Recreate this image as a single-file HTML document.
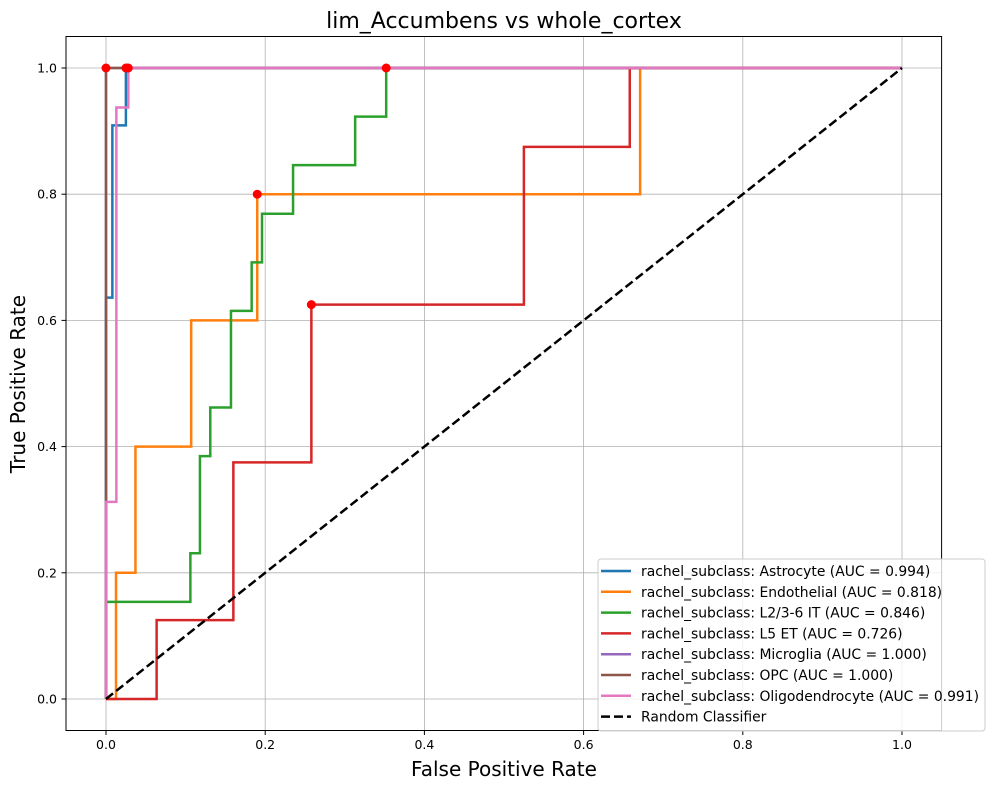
<!DOCTYPE html>
<html><head><meta charset="utf-8"><style>
body{margin:0;background:#fff;}
svg text{font-family:"DejaVu Sans","Liberation Sans",sans-serif;}
</style></head><body>
<svg id="chart" width="994" height="790" xmlns="http://www.w3.org/2000/svg">
<rect width="994" height="790" fill="#fff"/>
<g id="grid"></g>
<g id="ticks"></g>
<g id="series"></g>
<rect x="66" y="36.5" width="875.6" height="694" fill="none" stroke="#000" stroke-width="1"/>
<text x="504" y="28" font-size="22" text-anchor="middle">lim_Accumbens vs whole_cortex</text>
<text x="504" y="776" font-size="20" text-anchor="middle">False Positive Rate</text>
<text transform="translate(25,384) rotate(-90)" font-size="20" text-anchor="middle">True Positive Rate</text>
<g id="legend"></g>
</svg>
<script>
const names=["rachel_subclass: Astrocyte (AUC = 0.994)","rachel_subclass: Endothelial (AUC = 0.818)","rachel_subclass: L2/3-6 IT (AUC = 0.846)","rachel_subclass: L5 ET (AUC = 0.726)","rachel_subclass: Microglia (AUC = 1.000)","rachel_subclass: OPC (AUC = 1.000)","rachel_subclass: Oligodendrocyte (AUC = 0.991)"];
const colors=["#1f77b4","#ff7f0e","#2ca02c","#d62728","#9467bd","#8c564b","#e377c2"];
const fprAstro=[0,0,0.008,0.008,0.025,0.025,1];
const tprAstro=[0,0.636,0.636,0.909,0.909,1,1];
const fprEndo=[0,0.0126,0.0126,0.037,0.037,0.107,0.107,0.19,0.19,0.671,0.671,1];
const tprEndo=[0,0,0.2,0.2,0.4,0.4,0.6,0.6,0.8,0.8,1,1];
const fprL23=[0,0,0.106,0.106,0.118,0.118,0.131,0.131,0.157,0.157,0.183,0.183,0.196,0.196,0.235,0.235,0.313,0.313,0.352,0.352,1];
const tprL23=[0,0.154,0.154,0.231,0.231,0.385,0.385,0.462,0.462,0.615,0.615,0.692,0.692,0.769,0.769,0.846,0.846,0.923,0.923,1,1];
const fprL5=[0,0.0636,0.0636,0.16,0.16,0.258,0.258,0.525,0.525,0.658,0.658,1];
const tprL5=[0,0,0.125,0.125,0.375,0.375,0.625,0.625,0.875,0.875,1,1];
const fprMicro=[0,0,1];
const tprMicro=[0,1,1];
const fprOPC=[0,0,1];
const tprOPC=[0,1,1];
const fprOligo=[0,0,0.013,0.013,0.028,0.028,1];
const tprOligo=[0,0.3125,0.3125,0.9375,0.9375,1,1];
const dotX=[0,0.025,0.028,0.352,0.19,0.258];
const dotY=[1,1,1,1,0.8,0.625];
const ticks=[0,0.2,0.4,0.6,0.8,1.0];
const tickLabels=["0.0","0.2","0.4","0.6","0.8","1.0"];
const NS="http://www.w3.org/2000/svg";
function X(v){return 106+v*796;}
function Y(v){return 699-v*631;}
function mk(t,a,p){const e=document.createElementNS(NS,t);for(const k in a)e.setAttribute(k,a[k]);p.appendChild(e);return e;}
const grid=document.getElementById('grid'),tk=document.getElementById('ticks'),ser=document.getElementById('series'),leg=document.getElementById('legend');
ticks.forEach((t,i)=>{
 let g1=mk('line',{x1:X(t),x2:X(t),y1:36.5,y2:730.5,stroke:'#b0b0b0','stroke-width':0.8},grid);
 
 
 let g2=mk('line',{x1:66,x2:941.6,y1:Y(t),y2:Y(t),stroke:'#b0b0b0','stroke-width':0.8},grid);
 
 
 mk('line',{x1:X(t),x2:X(t),y1:730.5,y2:735,stroke:'#000'},tk);
 mk('line',{x1:61.5,x2:66,y1:Y(t),y2:Y(t),stroke:'#000'},tk);
 let a=mk('text',{x:X(t),y:749,'font-size':12.5,'text-anchor':'middle'},tk);a.textContent=tickLabels[i];
 
 
 let b=mk('text',{x:57,y:Y(t)+4.5,'font-size':12.5,'text-anchor':'end'},tk);b.textContent=tickLabels[i];
 
 
});
const fx=[fprAstro,fprEndo,fprL23,fprL5,fprMicro,fprOPC,fprOligo];
const ty=[tprAstro,tprEndo,tprL23,tprL5,tprMicro,tprOPC,tprOligo];
const sname=['astrocyte-curve','endothelial-curve','l23-it-curve','l5-et-curve','microglia-curve','opc-curve','oligodendrocyte-curve'];
fx.forEach((xs,i)=>{
 const pts=xs.map((x,j)=>X(x)+','+Y(ty[i][j])).join(' ');
 let p=mk('polyline',{points:pts,fill:'none',stroke:colors[i],'stroke-width':2.5},ser);
 
 
});
let d=mk('line',{x1:X(0),y1:Y(0),x2:X(1),y2:Y(1),stroke:'#000','stroke-width':2.5,'stroke-dasharray':'9,4'},ser);


dotX.forEach((x,i)=>{
 let c=mk('circle',{cx:X(x),cy:Y(dotY[i]),r:4.5,fill:'#ff0000'},ser);
 
 
});
let box=mk('rect',{x:598,y:559,width:387,height:172,rx:3,fill:'#fff','fill-opacity':0.8,stroke:'#ccc'},leg);


const labels=names.concat(["Random Classifier"]);
labels.forEach((n,i)=>{
 const y=571+i*20.8;
 let l=mk('line',{x1:601,x2:631,y1:y,y2:y,stroke:i<7?colors[i]:'#000','stroke-width':2.5},leg);
 if(i==7)l.setAttribute('stroke-dasharray','9,4');
 
 
 let t=mk('text',{x:641,y:y+5,'font-size':13.9},leg);t.textContent=n;
 
 
});
</script>
</body></html>
